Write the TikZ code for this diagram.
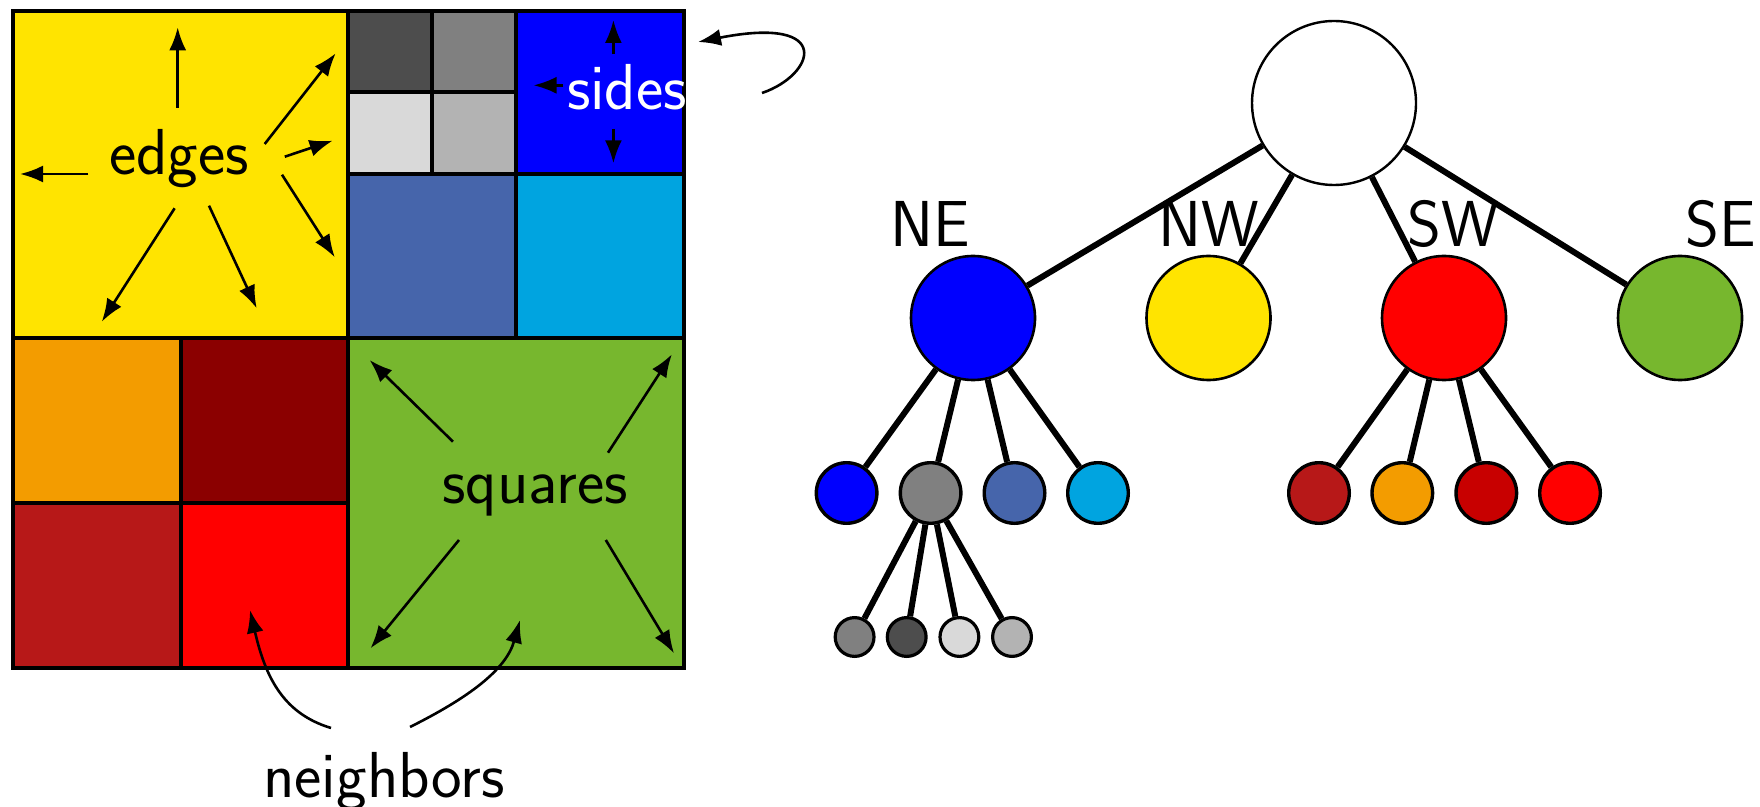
\documentclass[tikz,border=0pt]{standalone}
\usetikzlibrary{arrows.meta}

\definecolor{qyellow}{RGB}{255,228,0}
\definecolor{qdgrey}{RGB}{77,77,77}
\definecolor{qgrey}{RGB}{128,128,128}
\definecolor{qlgrey}{RGB}{217,217,217}
\definecolor{qmgrey}{RGB}{179,179,179}
\definecolor{qblue}{RGB}{0,0,255}
\definecolor{qsteel}{RGB}{70,101,171}
\definecolor{qcyan}{RGB}{0,164,224}
\definecolor{qorange}{RGB}{243,156,0}
\definecolor{qmaroon}{RGB}{139,0,0}
\definecolor{qfire}{RGB}{183,24,24}
\definecolor{qred}{RGB}{255,0,0}
\definecolor{qcrimson}{RGB}{200,0,0}
\definecolor{qgreen}{RGB}{119,183,46}

\begin{document}
\begin{tikzpicture}[x=0.5pt,y=-0.5pt,
  cell/.style={draw=black,line width=1.6pt},
  lbl/.style={font=\fontsize{32.5}{39}\selectfont\sffamily,anchor=base,inner sep=0pt},
  arr/.style={-{Latex[length=11.5pt,width=8.5pt]},line width=1.3pt},
  tnode/.style={circle,draw=black,inner sep=0pt},
  lvlA/.style={tnode,line width=1.2pt,minimum size=82pt},
  lvlB/.style={tnode,line width=1.3pt,minimum size=62pt},
  lvlC/.style={tnode,line width=1.7pt,minimum size=30.3pt},
  lvlD/.style={tnode,line width=1.6pt,minimum size=19.4pt},
  branch/.style={line width=3pt}]

\useasboundingbox (0,0) rectangle (1760,807);

% ---------- quadtree cells ----------
\fill[qyellow] (13,11) rectangle (348,338);
\fill[qdgrey] (348,11) rectangle (432,92);
\fill[qgrey] (432,11) rectangle (516,92);
\fill[qlgrey] (348,92) rectangle (432,174);
\fill[qmgrey] (432,92) rectangle (516,174);
\fill[qblue] (516,11) rectangle (684,174);
\fill[qsteel] (348,174) rectangle (516,338);
\fill[qcyan] (516,174) rectangle (684,338);
\fill[qorange] (13,338) rectangle (181,503);
\fill[qmaroon] (181,338) rectangle (348,503);
\fill[qfire] (13,503) rectangle (181,668);
\fill[qred] (181,503) rectangle (348,668);
\fill[qgreen] (348,338) rectangle (684,668);

\draw[cell] (13,11) rectangle (684,668);
\draw[cell] (348,11) -- (348,668);
\draw[cell] (13,338) -- (684,338);
\draw[cell] (516,11) -- (516,338);
\draw[cell] (348,174) -- (684,174);
\draw[cell] (432,11) -- (432,174);
\draw[cell] (348,92) -- (516,92);
\draw[cell] (181,338) -- (181,668);
\draw[cell] (13,503) -- (348,503);

% ---------- labels on the grid ----------
\node[lbl] (edges) at (179,175) {edges};
\node[lbl,text=white] (sides) at (627,110) {sides};
\node[lbl] (squares) at (535,503) {squares};
\node[lbl] (neighbors) at (384,797) {neighbors};

% arrows around "edges"
\coordinate (eAs) at (177.7,107.7); \coordinate (eAt) at (177.7,27.3);
\coordinate (eBs) at (88.4,174);    \coordinate (eBt) at (20,174);
\coordinate (eCs) at (264.7,144);   \coordinate (eCt) at (335.7,53.3);
\coordinate (eDs) at (284.8,156.7); \coordinate (eDt) at (332.6,140.7);
\coordinate (eEs) at (282,174.7);   \coordinate (eEt) at (334.8,257.3);
\coordinate (eFs) at (209,205.7);   \coordinate (eFt) at (256.7,308.3);
\coordinate (eGs) at (174.6,208.3); \coordinate (eGt) at (101.8,321.7);
\foreach \k in {A,B,C,D,E,F,G} \draw[arr] (e\k s) -- (e\k t);

% arrows around "sides"
\coordinate (sAs) at (613.4,54.3);  \coordinate (sAt) at (613.4,20);
\coordinate (sBs) at (563.4,85.3);  \coordinate (sBt) at (533.5,85.3);
\coordinate (sCs) at (613.4,129);   \coordinate (sCt) at (613.4,163.3);
\foreach \k in {A,B,C} \draw[arr] (s\k s) -- (s\k t);

% hook pointing back at "sides"
\coordinate (hookS) at (762,93);
\coordinate (hookT) at (698,42);
\draw[arr] (hookS) .. controls (815,75) and (835,15) .. (hookT);

% arrows around "squares"
\coordinate (qAs) at (453,441.7); \coordinate (qAt) at (369.6,360);
\coordinate (qBs) at (608,452.7); \coordinate (qBt) at (671.9,354.3);
\coordinate (qCs) at (459,540);   \coordinate (qCt) at (370.5,648.3);
\coordinate (qDs) at (605.8,540); \coordinate (qDt) at (674,653.3);
\foreach \k in {A,B,C,D} \draw[arr] (q\k s) -- (q\k t);

% curved arrows from "neighbors"
\coordinate (nAs) at (331,728); \coordinate (nAt) at (250,610);
\coordinate (nBs) at (410,727); \coordinate (nBt) at (520,620);
\draw[arr] (nAs) .. controls (285,714) and (266,680) .. (nAt);
\draw[arr] (nBs) .. controls (468,698) and (506,670) .. (nBt);

% ---------- quadtree ----------
\node[lvlA,fill=white] (root) at (1334,103) {};
\node[lvlB,fill=qblue]   (ne) at (973,318) {};
\node[lvlB,fill=qyellow] (nw) at (1208.5,318) {};
\node[lvlB,fill=qred]    (sw) at (1444,318) {};
\node[lvlB,fill=qgreen]  (se) at (1680,318) {};

\node[lvlC,fill=qblue]  (neA) at (846.6,493) {};
\node[lvlC,fill=qgrey]  (neB) at (930.6,493) {};
\node[lvlC,fill=qsteel] (neC) at (1014.5,493) {};
\node[lvlC,fill=qcyan]  (neD) at (1098,493) {};

\node[lvlC,fill=qfire]    (swA) at (1319,493) {};
\node[lvlC,fill=qorange]  (swB) at (1402.3,493) {};
\node[lvlC,fill=qcrimson] (swC) at (1486.3,493) {};
\node[lvlC,fill=qred]     (swD) at (1570,493) {};

\node[lvlD,fill=qgrey]  (gA) at (854.6,637) {};
\node[lvlD,fill=qdgrey] (gB) at (906.7,637) {};
\node[lvlD,fill=qlgrey] (gC) at (959.4,637) {};
\node[lvlD,fill=qmgrey] (gD) at (1012,637) {};

\foreach \c in {ne,nw,sw,se} \draw[branch] (root) -- (\c);
\foreach \c in {A,B,C,D} {
  \draw[branch] (ne) -- (ne\c);
  \draw[branch] (sw) -- (sw\c);
  \draw[branch] (neB) -- (g\c);
}

\node[lbl] (lNE) at (930.5,247) {NE};
\node[lbl] (lNW) at (1209,247) {NW};
\node[lbl] (lSW) at (1453,247) {SW};
\node[lbl] (lSE) at (1721,247) {SE};

\end{tikzpicture}
\end{document}
